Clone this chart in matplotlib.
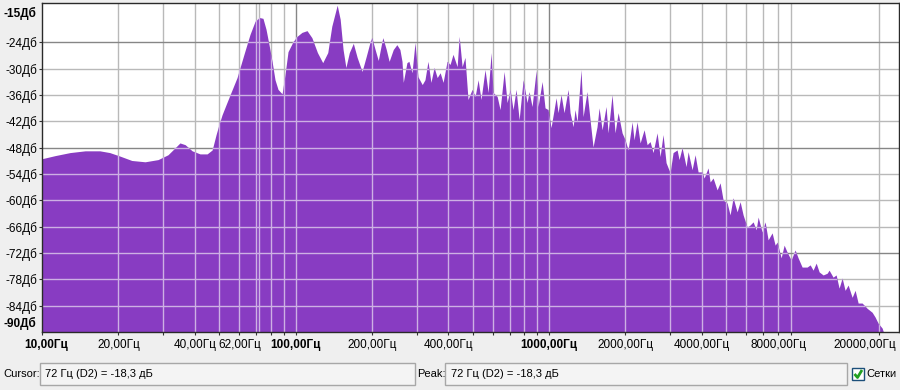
import matplotlib
matplotlib.use('Agg')
import matplotlib.pyplot as plt
from matplotlib.patches import Rectangle
from matplotlib.lines import Line2D
from matplotlib.ticker import FixedLocator, NullLocator, NullFormatter
import matplotlib.transforms as mtransforms

# ---------------- data ----------------
freq_hz = [10, 11.25, 12.9, 14.8, 16.9, 18.5, 20.3, 22.6, 25.5, 28.7,
           31.4, 33.5, 35.0, 36.7, 39.1, 42.0, 44.8, 46.9, 48.6, 49.9,
           51.3, 53.2, 55.2, 58.8, 62.6, 66.1, 69.2, 72.0, 74.4, 76.5,
           78.6, 80.8, 83.0, 85.3, 88.5, 90.9, 93.4, 97.8, 101.4, 106,
           111, 116, 122, 128, 134, 139, 146, 150, 154, 158,
           163, 169, 175, 183, 190, 197, 200, 206, 212, 218,
           221, 228, 234, 243, 251, 258, 263, 266, 275, 280,
           288, 296, 304, 316, 324, 333, 342, 352, 362, 372,
           382, 396, 407, 418, 434, 442, 454, 466, 479, 497,
           511, 525, 539, 559, 575, 591, 601, 624, 641, 665,
           683, 702, 721, 741, 762, 790, 819, 834, 857, 889,
           905, 939, 964, 991, 1018, 1066, 1085, 1115, 1146, 1189,
           1210, 1244, 1266, 1290, 1337, 1362, 1412, 1451, 1491, 1546,
           1575, 1619, 1678, 1709, 1772, 1821, 1872, 1941, 1995, 2050,
           2126, 2164, 2224, 2286, 2371, 2436, 2503, 2572, 2667, 2741,
           2816, 2894, 3001, 3084, 3199, 3257, 3347, 3471, 3535, 3666,
           3767, 3871, 4014, 4088, 4239, 4317, 4436, 4600, 4728, 4858,
           5038, 5176, 5320, 5516, 5670, 5826, 6042, 6209, 6381, 6558,
           6677, 6924, 7115, 7311, 7582, 7792, 7934, 8230, 8456, 8689,
           9011, 9341, 9601, 9956, 10420, 10710, 11000, 11310, 11620, 12050,
           12500, 12720, 13190, 13560, 13930, 14320, 14710, 15120, 15680, 16110,
           16560, 17170, 17970, 18800, 19320, 19860, 20590, 20970]
level_db = [-50.5, -49.8, -49.1, -48.7, -48.7, -49.1, -49.9, -50.9, -51.2, -50.7,
            -49.6, -48.0, -46.9, -47.3, -48.7, -49.4, -49.4, -48.5, -45.0, -42.7,
            -40.5, -38.2, -35.9, -32.0, -26.7, -22.2, -19.2, -18.3, -18.5, -21.0,
            -24.5, -28.3, -32.5, -34.7, -35.7, -31.3, -26.1, -23.8, -22.6, -21.7,
            -21.3, -22.9, -26.3, -28.6, -26.3, -20.3, -15.5, -18.7, -25.6, -29.7,
            -26.3, -24.2, -27.4, -30.6, -27.2, -23.8, -22.9, -25.6, -28.1, -24.5,
            -22.9, -25.6, -28.3, -25.6, -24.5, -25.6, -28.3, -33.1, -28.6, -28.3,
            -30.9, -24.0, -31.8, -33.6, -32.5, -28.3, -33.1, -29.7, -32.0, -30.9,
            -33.1, -28.3, -29.0, -26.7, -29.5, -22.6, -29.5, -27.4, -37.0, -34.7,
            -36.3, -32.5, -37.0, -30.2, -35.4, -26.3, -35.4, -36.3, -39.3, -30.6,
            -37.7, -34.7, -39.3, -34.7, -41.6, -32.5, -37.7, -35.2, -38.6, -30.4,
            -38.6, -32.9, -38.9, -39.3, -43.4, -36.6, -40.0, -35.9, -40.0, -34.7,
            -40.0, -43.2, -39.3, -42.1, -30.2, -40.9, -35.2, -41.6, -47.8, -43.2,
            -38.9, -43.9, -38.6, -44.6, -35.9, -44.6, -40.0, -44.6, -46.2, -48.5,
            -42.1, -46.2, -42.1, -46.9, -43.9, -47.3, -46.6, -49.1, -44.6, -50.0,
            -45.0, -51.4, -53.7, -49.1, -48.5, -50.7, -48.0, -52.3, -48.9, -53.0,
            -49.6, -53.5, -53.5, -54.9, -52.6, -55.8, -54.9, -57.6, -56.0, -59.9,
            -60.6, -63.3, -59.4, -62.6, -60.3, -63.3, -66.1, -65.6, -64.9, -66.7,
            -63.8, -67.2, -64.9, -69.0, -67.4, -70.2, -69.5, -73.1, -70.2, -71.8,
            -73.6, -71.3, -73.1, -75.2, -75.2, -74.7, -75.9, -74.3, -76.3, -77.0,
            -76.6, -75.9, -77.5, -77.0, -80.0, -77.7, -80.5, -79.3, -82.1, -80.5,
            -83.4, -83.4, -84.6, -85.5, -86.6, -88.0, -89.1, -90.5]

grid_freqs = [20, 30, 40, 50, 60, 70, 80, 90,
              100, 200, 300, 400, 500, 600, 700, 800, 900,
              1000, 2000, 3000, 4000, 5000, 6000, 7000, 8000, 9000,
              20000]
major_freqs = [100, 1000]
xlabel_freqs = [10, 20, 40, 60, 100, 200, 400, 1000, 2000, 4000, 8000, 20000]
xlabel_texts = ['10,00Гц', '20,00Гц', '40,00Гц', '62,00Гц', '100,00Гц', '200,00Гц',
                '400,00Гц', '1000,00Гц', '2000,00Гц', '4000,00Гц', '8000,00Гц',
                '20000,00Гц']
xlabel_bold = ['10,00Гц', '100,00Гц', '1000,00Гц']

ygrid_vals = [-24, -30, -36, -42, -48, -54, -60, -66, -72, -78, -84]
ygrid_labels = ['-24Дб', '-30Дб', '-36Дб', '-42Дб', '-48Дб', '-54Дб', '-60Дб',
                '-66Дб', '-72Дб', '-78Дб', '-84Дб']
ymajor_vals = [-24, -48, -72]
y_min, y_max = -90, -15
y_min_label, y_max_label = '-90Дб', '-15Дб'
x_min, x_max = 10, 24000
cursor_freq = 72
cursor_text = '72 Гц (D2) = -18,3 дБ'
peak_text = '72 Гц (D2) = -18,3 дБ'
grid_check_label = 'Сетки'

# ---------------- styling ----------------
BG = '#efefef'
PURPLE = '#883cc2'
GRID_LIGHT = '#b9b9b9'
GRID_DARK = '#868686'
GRID_ON_FILL = '#cdb0e4'
FS = 8.5
FS_STATUS = 8
plt.rcParams['font.family'] = ['Liberation Sans', 'DejaVu Sans']

W, H = 900, 390
fig = plt.figure(figsize=(W / 100, H / 100), dpi=100, facecolor=BG)

def fx(px):
    return px / W

def fy(py):
    return 1 - py / H

ax = fig.add_axes([fx(42), fy(332), (899 - 42) / W, (332 - 3) / H])
ax.set_facecolor('white')
ax.set_xscale('log')
ax.set_xlim(x_min, x_max)
ax.set_ylim(y_min, y_max)

# grid under the fill
for f in grid_freqs:
    c = GRID_DARK if f in major_freqs else GRID_LIGHT
    ax.axvline(f, color=c, lw=1, zorder=1)
ax.axvline(cursor_freq, color=GRID_LIGHT, lw=1, zorder=1)
for v in ygrid_vals:
    c = GRID_DARK if v in ymajor_vals else GRID_LIGHT
    ax.axhline(v, color=c, lw=1, zorder=1)

# spectrum
poly = ax.fill_between(freq_hz, level_db, y_min, color=PURPLE, lw=0, zorder=2)
clip = poly.get_paths()[0]

# grid drawn over the filled area in a light tone
for f in grid_freqs + [cursor_freq]:
    ln = ax.axvline(f, color=GRID_ON_FILL, lw=1, zorder=3)
    ln.set_clip_path(clip, ax.transData)
for v in ygrid_vals:
    ln = ax.axhline(v, color=GRID_ON_FILL, lw=1, zorder=3)
    ln.set_clip_path(clip, ax.transData)

for s in ax.spines.values():
    s.set_color('#2a2a2a')
    s.set_linewidth(1)
    s.set_zorder(5)

# ticks
ax.xaxis.set_major_locator(FixedLocator([x_min] + grid_freqs))
ax.xaxis.set_minor_locator(NullLocator())
ax.xaxis.set_major_formatter(NullFormatter())
ax.xaxis.set_minor_formatter(NullFormatter())
ax.tick_params(axis='x', direction='out', length=2.5, width=0.8, color='#333333')
ax.set_yticks(ygrid_vals, ygrid_labels)
ax.tick_params(axis='y', direction='out', length=2.5, width=0.8, color='#333333',
               labelsize=FS, pad=1)

# x labels
xtr = mtransforms.blended_transform_factory(ax.transData, ax.transAxes)
for f, t in zip(xlabel_freqs, xlabel_texts):
    dx = 0
    if f == xlabel_freqs[0]:
        dx = 4
    if f == xlabel_freqs[-1]:
        dx = -14
    ax.annotate(t, xy=(f, 0), xycoords=xtr, xytext=(dx, -13),
                textcoords='offset pixels', ha='center', va='center',
                fontsize=FS, fontweight='bold' if t in xlabel_bold else 'normal',
                color='black', annotation_clip=False)

# bold end labels of the level axis
ax.annotate(y_max_label, xy=(0, 1), xycoords='axes fraction', xytext=(-6, -10),
            textcoords='offset pixels', ha='right', va='center', fontsize=FS,
            fontweight='bold', annotation_clip=False)
ax.annotate(y_min_label, xy=(0, 0), xycoords='axes fraction', xytext=(-6, 9),
            textcoords='offset pixels', ha='right', va='center', fontsize=FS,
            fontweight='bold', annotation_clip=False)

# ---------------- status bar ----------------
def box(x0, x1, y0, y1, face='#f4f4f4', edge='#a7a7a7'):
    fig.patches.append(Rectangle((fx(x0), fy(y1)), fx(x1 - x0), (y1 - y0) / H,
                                 transform=fig.transFigure, facecolor=face,
                                 edgecolor=edge, lw=1))

fig.text(fx(3), fy(374), 'Cursor:', fontsize=FS_STATUS, va='center', ha='left')
box(40, 415, 363, 385)
fig.text(fx(45), fy(374), cursor_text, fontsize=FS_STATUS, va='center', ha='left')
fig.text(fx(417), fy(374), 'Peak:', fontsize=FS_STATUS, va='center', ha='left')
box(445, 847, 363, 385)
fig.text(fx(451), fy(374), peak_text, fontsize=FS_STATUS, va='center', ha='left')

box(852, 864, 368, 380, face='white', edge='#1c4f7a')
fig.lines.append(Line2D([fx(854.5), fx(857.5), fx(862)], [fy(374), fy(377.5), fy(370)],
                        transform=fig.transFigure, color='#22a022', lw=2.0,
                        solid_capstyle='butt'))
fig.text(fx(866), fy(374), grid_check_label, fontsize=FS_STATUS, va='center', ha='left')

fig.savefig('out.png', dpi=100, facecolor=BG)
